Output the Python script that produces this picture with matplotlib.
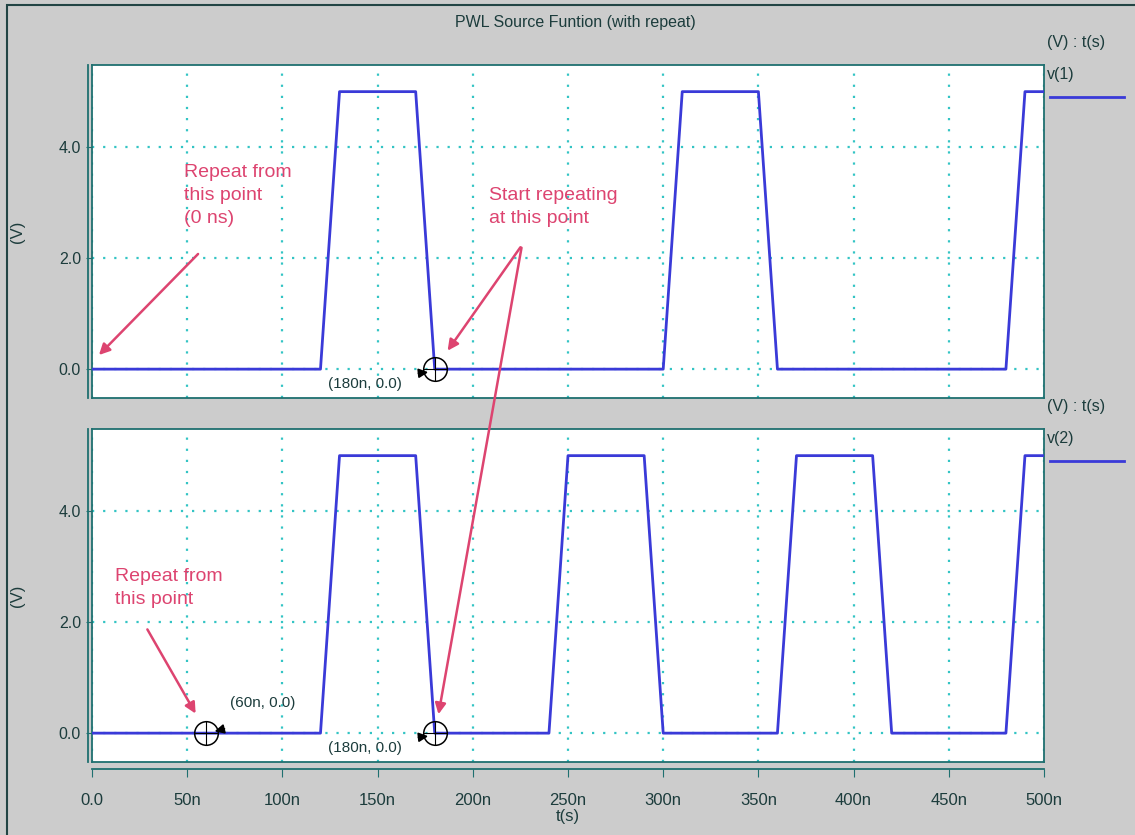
import numpy as np
import matplotlib.pyplot as plt
from matplotlib.patches import Rectangle, FancyArrowPatch

# PWL breakpoints (time in ns, voltage in V)
t_v1 = [0, 120, 130, 170, 180, 300, 310, 350, 360, 480, 490, 500]
v1 = [0, 0, 5, 5, 0, 0, 5, 5, 0, 0, 5, 5]

t_v2 = [0, 120, 130, 170, 180, 240, 250, 290, 300, 360, 370, 410, 420, 480, 490, 500]
v2 = [0, 0, 5, 5, 0, 0, 5, 5, 0, 0, 5, 5, 0, 0, 5, 5]

x_ticks = [0, 50, 100, 150, 200, 250, 300, 350, 400, 450, 500]
x_labels = ['0.0', '50n', '100n', '150n', '200n', '250n', '300n', '350n', '400n', '450n', '500n']
y_ticks = [0, 2, 4]
y_labels = ['0.0', '2.0', '4.0']

# marked points on the traces: (panel, t, v, label)
markers = [(0, 180, 0.0, '(180n, 0.0)'),
           (1, 60, 0.0, '(60n, 0.0)'),
           (1, 180, 0.0, '(180n, 0.0)')]

plt.rcParams['font.family'] = ['Liberation Sans', 'DejaVu Sans']

BG = '#cccccc'
FRAME = '#1f7070'
GRID = '#33c4c4'
TRACE = '#3a3ad8'
NOTE = '#dd4470'
TXT = '#1c3c3c'

fig = plt.figure(figsize=(11.35, 8.35), dpi=100, facecolor=BG)
fig.patches.append(Rectangle((0.006, -0.01), 1.0, 1.004, transform=fig.transFigure,
                             fill=False, edgecolor='#224444', lw=1.5))

W, H = 1135, 835


def px(x, y):
    # pixel position -> figure fraction
    return x / W, 1 - y / H


ax_top = fig.add_axes([92 / W, 1 - 398 / H, 952 / W, 333 / H])
ax_bot = fig.add_axes([92 / W, 1 - 762 / H, 952 / W, 333 / H])
ax_bot.spines['bottom'].set_position(('outward', 5))

for ax, t, v, name, leg_y in [(ax_top, t_v1, v1, 'v(1)', 65), (ax_bot, t_v2, v2, 'v(2)', 429)]:
    ax.set_facecolor('white')
    ax.plot(t, v, color=TRACE, lw=2.0, zorder=3)
    ax.set_xlim(0, 500)
    ax.set_ylim(-0.52, 5.48)
    ax.set_xticks(x_ticks)
    ax.set_yticks(y_ticks)
    ax.set_yticklabels(y_labels, fontsize=11.5, color=TXT)
    ax.grid(True, color=GRID, linestyle=(0, (1, 4)), lw=1.6)
    for s in ax.spines.values():
        s.set_color(FRAME)
        s.set_linewidth(1.3)
    ax.tick_params(axis='y', direction='out', length=4, color=FRAME, pad=4)
    ax.tick_params(axis='x', direction='out', length=6, color=FRAME, pad=11)
    ax.set_ylabel('(V)', fontsize=12, color=TXT)
    ax.yaxis.set_label_coords((25 - 92) / 952, 0.5)
    # second line at the left edge of the plot area
    ax.add_line(plt.Line2D([-0.004, -0.004], [0, 1], transform=ax.transAxes,
                           color=FRAME, lw=1.3, clip_on=False))
    # legend block on the right
    fx, fy = px(1047, leg_y - 22)
    fig.text(fx, fy, '(V) : t(s)', fontsize=11.5, color=TXT, va='center')
    fx, fy = px(1047, leg_y + 10)
    fig.text(fx, fy, name, fontsize=11.5, color=TXT, va='center')
    x0, yl = px(1050, leg_y + 32)
    x1, _ = px(1124, leg_y + 32)
    fig.add_artist(plt.Line2D([x0, x1], [yl, yl], color=TRACE, lw=2.0))

ax_top.tick_params(axis='x', length=0, labelbottom=False)
ax_bot.set_xticklabels(x_labels, fontsize=12, color=TXT)
ax_bot.add_line(plt.Line2D([0, 1], [0, 0], transform=ax_bot.transAxes,
                           color=FRAME, lw=1.3, clip_on=False))
ax_bot.set_xlabel('t(s)', fontsize=12, color=TXT, labelpad=1)

fig.text(575 / W, 1 - 22 / H, 'PWL Source Funtion (with repeat)', fontsize=11.5,
         color=TXT, ha='center', va='center')

# cursor markers with their coordinate labels
axes = [ax_top, ax_bot]
for panel, t, v, label in markers:
    ax = axes[panel]
    ax.plot([t], [v], marker='o', ms=17, mfc='none', mec='black', mew=1.1, zorder=5,
            clip_on=False)
    ax.plot([t], [v], marker='+', ms=17, mec='black', mew=0.8, zorder=5)
    if t == 60:
        ax.annotate('', xy=(t + 3, v + 0.02), xytext=(t + 11, v + 0.09),
                    arrowprops=dict(arrowstyle='-|>', color='black', lw=1.2, mutation_scale=14))
        ax.annotate(label, xy=(t, v), xytext=(17, 22), textcoords='offset points',
                    fontsize=11, color=TXT, va='center')
    else:
        ax.annotate('', xy=(t - 2, v - 0.05), xytext=(t - 10, v - 0.08),
                    arrowprops=dict(arrowstyle='-|>', color='black', lw=1.2, mutation_scale=14))
        ax.annotate(label, xy=(t, v), xytext=(-77, -11), textcoords='offset points',
                    fontsize=11, color=TXT, va='center')

# red callouts
note_kw = dict(fontsize=14, color=NOTE, linespacing=1.45, va='top')
fx, fy = px(184, 164)
fig.text(fx, fy, 'Repeat from\nthis point\n(0 ns)', **note_kw)
fx, fy = px(489, 187)
fig.text(fx, fy, 'Start repeating\nat this point', **note_kw)
fx, fy = px(115, 568)
fig.text(fx, fy, 'Repeat from\nthis point', **note_kw)

arrows = [((200, 252), (97, 357)),
          ((522, 245), (446, 353)),
          ((522, 245), (438, 717)),
          ((146, 627), (197, 716))]
for (xa, ya), (xb, yb) in arrows:
    fig.add_artist(FancyArrowPatch(px(xa, ya), px(xb, yb), transform=fig.transFigure,
                                   arrowstyle='-|>', mutation_scale=16, color=NOTE, lw=1.8))

fig.savefig('out.png', dpi=100, facecolor=BG)
